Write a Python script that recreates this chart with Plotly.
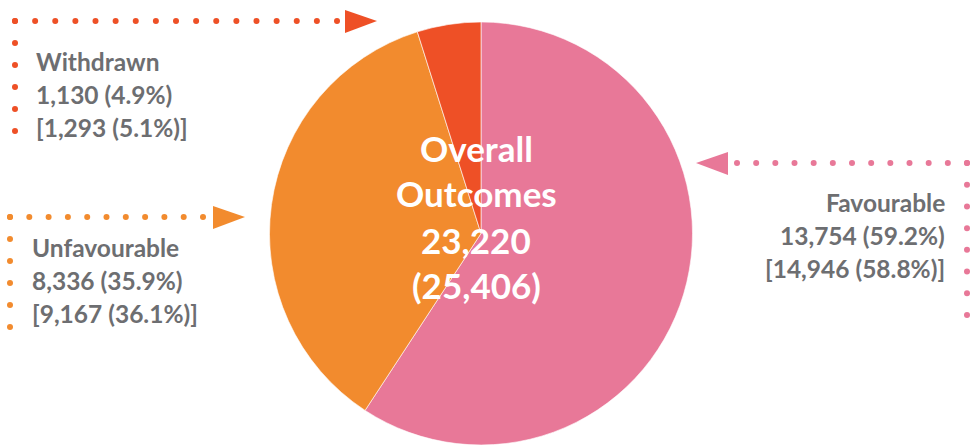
import numpy as np
import plotly.graph_objects as go

# ---- data ----
categories = ["Favourable", "Unfavourable", "Withdrawn"]
values = [13754, 8336, 1130]
percent_labels = ["59.2%", "35.9%", "4.9%"]
prev_values = ["14,946", "9,167", "1,293"]
prev_percent = ["58.8%", "36.1%", "5.1%"]
total_now = "23,220"
total_prev = "25,406"
colors = ["#E87898", "#F28B2E", "#EE5026"]

W, H = 972, 446
GRAY = "#6D6E71"
FONT = "Lato"

fig = go.Figure()

# pie
fig.add_trace(go.Pie(
    labels=categories, values=values, sort=False, direction="clockwise",
    rotation=0, marker=dict(colors=colors, line=dict(color="white", width=0.6)),
    textinfo="none", hoverinfo="label+value+percent", showlegend=False,
    domain=dict(x=[269 / W, 693 / W], y=[1 - 445 / H, 1 - 22 / H]),
))

def px(x):
    return x / W

def py(y):
    return 1 - y / H

# dotted connectors (pixel-space overlay axes)
def dots(x0, y0, x1, y1, step):
    n = max(int(round(np.hypot(x1 - x0, y1 - y0) / step)), 1)
    t = np.linspace(0, 1, n + 1)
    return x0 + (x1 - x0) * t, y0 + (y1 - y0) * t

connectors = [
    # (horizontal segment, vertical segment, color)
    ((15, 21, 337, 21), (15, 21, 15, 131), colors[2]),
    ((10, 217, 203, 217), (10, 217, 10, 327), colors[1]),
    ((737, 163, 967, 163), (967, 163, 967, 315), colors[0]),
]
for hseg, vseg, c in connectors:
    hx, hy = dots(*hseg, 20)
    vx, vy = dots(*vseg, 22)
    fig.add_trace(go.Scatter(
        x=np.concatenate([hx, vx]), y=np.concatenate([hy, vy]), mode="markers",
        marker=dict(size=6, color=c), hoverinfo="skip", showlegend=False,
        xaxis="x", yaxis="y"))

# arrowheads
tri = [
    ("M 345 10 L 377 21 L 345 33 Z", colors[2]),
    ("M 213 206 L 245 217 L 213 229 Z", colors[1]),
    ("M 728 152 L 696 163 L 728 175 Z", colors[0]),
]
shapes = [dict(type="path", path=p, xref="x", yref="y", fillcolor=c,
               line=dict(width=0)) for p, c in tri]

annotations = []
def line_text(text, x, baseline, anchor, size, color):
    annotations.append(dict(
        text=text, x=px(x), y=py(baseline - 0.3 * size), xref="paper", yref="paper",
        xanchor=anchor, yanchor="middle", showarrow=False,
        font=dict(family=FONT, size=size, color=color, weight="bold")))

side = {
    "Withdrawn": (34, [69, 102, 135], "left"),
    "Unfavourable": (30, [255, 288, 321], "left"),
    "Favourable": (947, [210, 243, 276], "right"),
}
SZ = 24.5
for i, cat in enumerate(categories):
    x, bl, anc = side[cat]
    line_text(cat, x, bl[0], anc, SZ, GRAY)
    line_text(f"{values[i]:,} ({percent_labels[i]})", x, bl[1], anc, SZ, GRAY)
    line_text(f"[{prev_values[i]} ({prev_percent[i]})]", x, bl[2], anc, SZ, GRAY)

center_lines = ["Overall", "Outcomes", total_now, f"({total_prev})"]
for txt, bl in zip(center_lines, [158, 203, 250, 295]):
    line_text(txt, 476, bl, "center", 35, "white")

fig.update_layout(
    width=W, height=H, margin=dict(l=0, r=0, t=0, b=0),
    paper_bgcolor="white", plot_bgcolor="rgba(0,0,0,0)",
    xaxis=dict(range=[0, W], visible=False, fixedrange=True),
    yaxis=dict(range=[H, 0], visible=False, fixedrange=True),
    shapes=shapes, annotations=annotations,
)

fig.write_html("out.html", config={"displayModeBar": False},
               post_script="document.body.style.margin='0';")
